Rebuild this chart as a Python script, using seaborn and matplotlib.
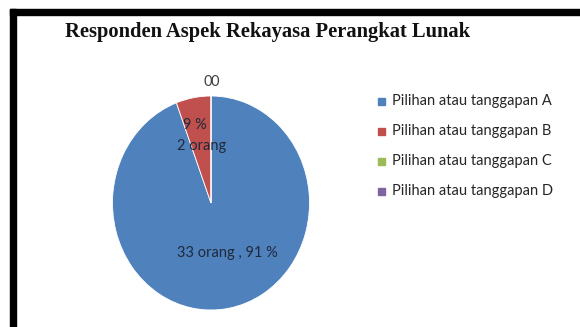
import matplotlib
matplotlib.use("Agg")
import matplotlib.pyplot as plt
from matplotlib.patches import Rectangle
import seaborn as sns

sns.set_theme(style="white")
plt.rcParams["font.family"] = ["Lato", "DejaVu Sans"]

# Data
categories = ["Pilihan atau tanggapan A", "Pilihan atau tanggapan B",
              "Pilihan atau tanggapan C", "Pilihan atau tanggapan D"]
responden = [33, 2, 0, 0]
persen = [91, 9, 0, 0]
colors = ["#4F81BD", "#C0504D", "#9BBB59", "#8064A2"]

W, H = 580, 327
fig = plt.figure(figsize=(W / 100, H / 100), dpi=100)
fig.patch.set_facecolor("white")

def fx(px):
    return px / W

def fy(py):
    return 1 - py / H

# Thick frame on the left and top
fig.add_artist(Rectangle((fx(10), 0), fx(6), fy(9), transform=fig.transFigure,
                         color="black", zorder=5))
fig.add_artist(Rectangle((fx(10), fy(15)), 1 - fx(10), 6 / H,
                         transform=fig.transFigure, color="black", zorder=5))

fig.text(fx(268), fy(32), "Responden Aspek Rekayasa Perangkat Lunak",
         ha="center", va="center", fontsize=14.8, fontweight="bold",
         family="Liberation Serif", color="#111111")

# Pie axes (slightly taller than wide)
cx, cy, rx, ry = 211, 203, 98.5, 107
ax = fig.add_axes([fx(cx - rx), fy(cy + ry), fx(2 * rx), 2 * ry / H])
wedges, _ = ax.pie(responden, colors=colors, startangle=90, counterclock=False,
                   radius=1, wedgeprops=dict(linewidth=0.6, edgecolor="white"))
ax.set_aspect("auto")
ax.set_xlim(-1, 1)
ax.set_ylim(-1, 1)
ax.axis("off")

lab = dict(fontsize=10.5, color="#1f2a3a", ha="center", va="center")
ax.text((227 - cx) / rx, (cy - 253) / ry,
        f"{responden[0]} orang , {persen[0]} %", **lab)
ax.text((195 - cx) / rx, (cy - 125) / ry, f"{persen[1]} %", **lab)
ax.text((202 - cx) / rx, (cy - 146) / ry, f"{responden[1]} orang", **lab)
ax.text((208 - cx) / rx, (cy - 82) / ry, f"{responden[2]}", fontsize=10.5,
        color="#404040", ha="center", va="center", clip_on=False)
ax.text((215 - cx) / rx, (cy - 82) / ry, f"{responden[3]}", fontsize=10.5,
        color="#404040", ha="center", va="center", clip_on=False)

# Legend
for i, (name, c) in enumerate(zip(categories, colors)):
    y = 101 + 30 * i
    fig.add_artist(Rectangle((fx(378), fy(y + 3.5)), fx(7), 7 / H,
                             transform=fig.transFigure, color=c))
    fig.text(fx(392), fy(y), name, fontsize=10.5, color="#262626",
             ha="left", va="center")

fig.savefig("out.png", dpi=100, facecolor="white")
